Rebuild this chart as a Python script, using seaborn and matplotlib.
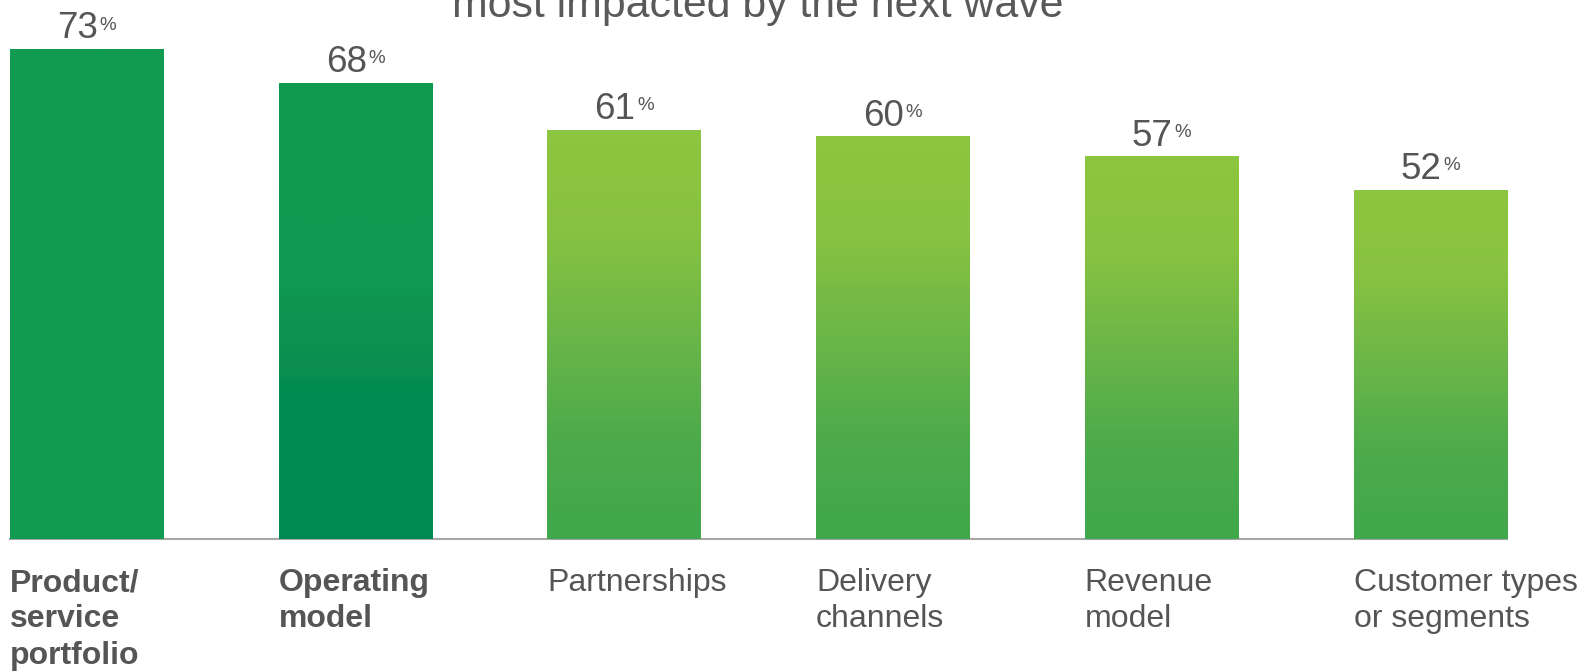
import numpy as np
import pandas as pd
import matplotlib
matplotlib.use("Agg")
import matplotlib.pyplot as plt
from matplotlib.colors import LinearSegmentedColormap
import seaborn as sns

# Share of respondents naming each area as most impacted
categories = ["Product/\nservice\nportfolio", "Operating\nmodel", "Partnerships",
              "Delivery\nchannels", "Revenue\nmodel", "Customer types\nor segments"]
values = [73, 68, 61, 60, 57, 52]
highlighted = [True, True, False, False, False, False]
subtitle = "most impacted by the next wave"

sns.set_theme(style="white")
plt.rcParams["font.family"] = ["Liberation Sans", "DejaVu Sans"]

TEXT = "#555555"
DPI = 100
W, H = 1589, 672

# Vertical fills: solid, dark-green fade, lime-to-green fade
cmap_solid = LinearSegmentedColormap.from_list("solid", ["#119B50", "#119B50"])
cmap_dark = LinearSegmentedColormap.from_list(
    "dark", [(0.0, "#008A50"), (0.33, "#008C51"), (0.37, "#0B8E51"),
             (0.55, "#0F9850"), (1.0, "#119B50")])
cmap_lime = LinearSegmentedColormap.from_list(
    "lime", [(0.0, "#40A84C"), (0.25, "#4DAB4B"), (0.5, "#6BB648"),
             (0.75, "#87C241"), (1.0, "#8DC63F")])
fills = [cmap_solid, cmap_dark, cmap_lime, cmap_lime, cmap_lime, cmap_lime]

df = pd.DataFrame({"category": categories, "value": values})

fig = plt.figure(figsize=(W / DPI, H / DPI), dpi=DPI)
ax = fig.add_axes([10 / W, 133 / H, 1497.5 / W, 539 / H])

bar_w = 0.573
sns.barplot(data=df, x="category", y="value", hue="category", order=categories,
            hue_order=categories, width=bar_w, legend=False, ax=ax,
            palette=["#119B50"] * len(categories), saturation=1, edgecolor="none")

ax.set_xlim(-bar_w / 2, len(categories) - 1 + bar_w / 2)
ax.set_ylim(0, 539 / (490 / 73))

grad = np.linspace(0, 1, 256).reshape(-1, 1)
for idx, (patch, cmap) in enumerate(zip(list(ax.patches), fills)):
    x0, y0 = patch.get_x(), patch.get_y()
    w, h = patch.get_width(), patch.get_height()
    patch.set_facecolor("none")
    im = ax.imshow(grad, cmap=cmap, origin="lower", aspect="auto",
                   extent=[x0, x0 + w, y0, y0 + h], zorder=2, interpolation="bicubic")
    im.set_clip_path(patch)

    # value label: large number with a small raised percent sign
    cx = x0 + w / 2
    ax.annotate(f"{values[idx]}", xy=(cx, h), xytext=(11, 10.5),
                textcoords="offset pixels", ha="right", va="baseline",
                fontsize=26.5, color=TEXT, annotation_clip=False)
    ax.annotate("%", xy=(cx, h), xytext=(12.5, 19.5), textcoords="offset pixels",
                ha="left", va="baseline", fontsize=13.5, color=TEXT,
                annotation_clip=False)

    # category name under the bar, flush with its left edge
    ax.annotate(categories[idx], xy=(x0, 0), xytext=(0, -29),
                textcoords="offset pixels", ha="left", va="top",
                fontsize=23, color=TEXT, linespacing=1.28,
                fontweight="bold" if highlighted[idx] else "normal",
                annotation_clip=False)

ax.set_xticks([])
ax.set_yticks([])
ax.set_xlabel("")
ax.set_ylabel("")
for side in ["top", "left", "right"]:
    ax.spines[side].set_visible(False)
ax.spines["bottom"].set_color("#A6A6A6")
ax.spines["bottom"].set_linewidth(1.5)
ax.spines["bottom"].set_zorder(1)

fig.text(758 / W, 1 - 17.5 / H, subtitle, ha="center", va="baseline",
         fontsize=30.8, color="#595959")

fig.savefig("out.png", dpi=DPI, facecolor="white")
